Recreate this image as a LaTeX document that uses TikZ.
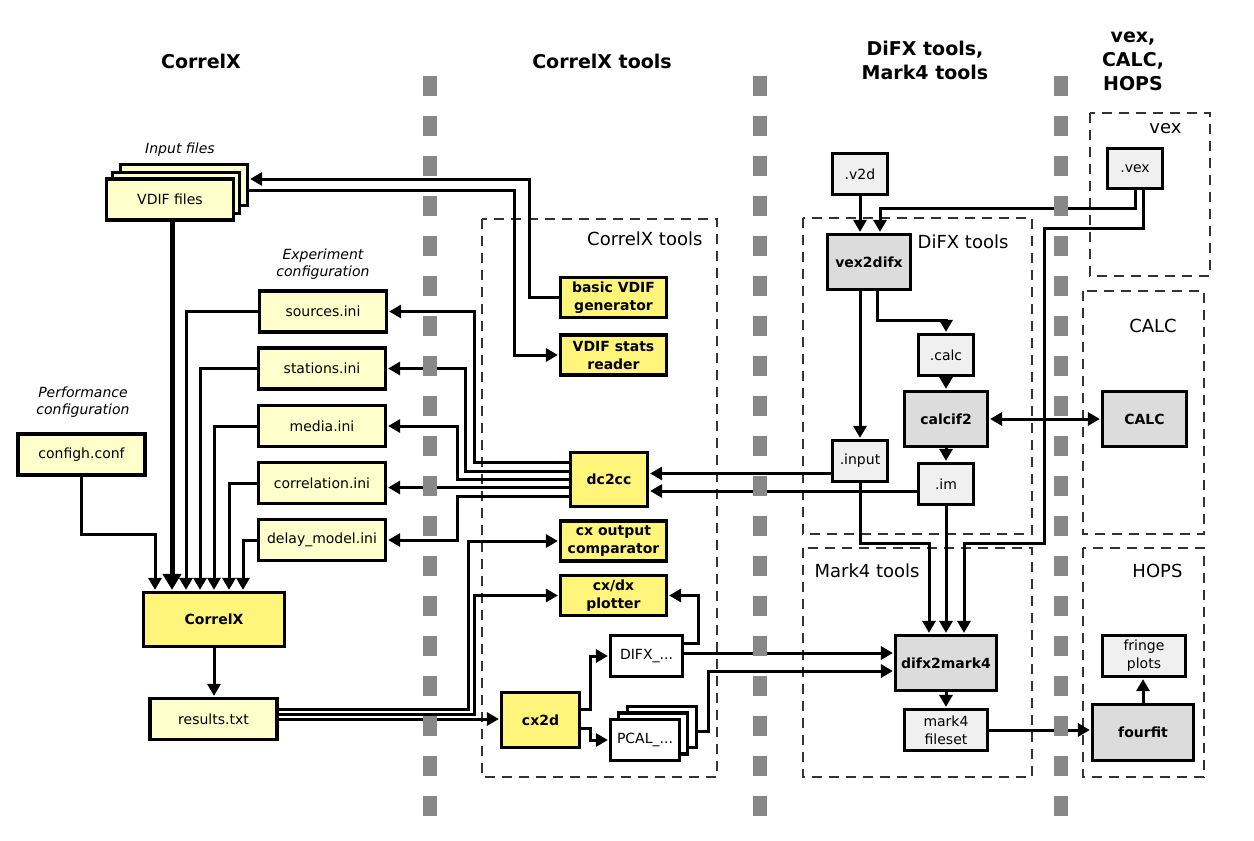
\documentclass[tikz,border=0pt]{standalone}
\usepackage{fontspec}
\setmainfont{DejaVu Sans}
\usepackage{xcolor}
\usepackage{tikz}
\usetikzlibrary{arrows.meta}

\definecolor{fileyellow}{HTML}{FFFFCC}
\definecolor{toolyellow}{HTML}{FFF57A}
\definecolor{toolgray}{HTML}{DCDCDC}
\definecolor{filegray}{HTML}{F0F0F0}
\definecolor{sepgray}{HTML}{888888}
\definecolor{groupline}{HTML}{333333}

\tikzset{
  box/.style={draw, line width=3.2pt, inner sep=0pt, align=center, font=\fontsize{14}{18}\selectfont},
  filebox/.style={box, fill=fileyellow, minimum width=127pt, minimum height=41pt},
  toolbox/.style={box, fill=toolyellow, font=\fontsize{14}{18}\selectfont\bfseries, minimum width=106pt, minimum height=40pt},
  gfile/.style={box, fill=filegray, minimum width=55pt, minimum height=41pt},
  gtool/.style={box, fill=toolgray, font=\fontsize{14}{18}\selectfont\bfseries, minimum width=83pt, minimum height=55pt},
  wfile/.style={box, fill=white, minimum width=72pt, minimum height=41pt},
  conn/.style={line width=3pt, ->, shorten >=1pt},
  bigconn/.style={line width=5pt, -{Triangle[length=16pt,width=18pt]}, shorten >=1pt},
  group/.style={line width=1.5pt, groupline, dash pattern=on 10pt off 7pt},
  grouplabel/.style={font=\fontsize{18}{22}\selectfont},
  title/.style={align=center, font=\fontsize{19}{24}\selectfont\bfseries},
  note/.style={align=center, font=\fontsize{14}{17}\selectfont\itshape}
}

\begin{document}
\begin{tikzpicture}[x=1pt, y=-1pt, >={Triangle[length=12pt,width=13pt]}]
    \useasboundingbox (0,0) rectangle (1254,841);

    % Column titles
    \node[title] (ttlcorrelx) at (201,61) {CorrelX};
    \node[title] (ttlcxtools) at (602,61) {CorrelX tools};
    \node[title] (ttldifx) at (925,60) {DiFX tools,\\Mark4 tools};
    \node[title] (ttlvex) at (1133,61) {vex,\\CALC,\\HOPS};

    % Dashed groups
    \draw[group] (482,219) rectangle (717,777);
    \draw[group] (803,218) rectangle (1032,534);
    \draw[group] (803,548) rectangle (1032,777);
    \draw[group] (1090,113) rectangle (1210,276);
    \draw[group] (1083,291) rectangle (1204,534);
    \draw[group] (1083,548) rectangle (1204,777);
    \node[grouplabel, anchor=east] (lblcxtools) at (706,239) {CorrelX tools};
    \node[grouplabel, anchor=east] (lbldifx) at (1012,242) {DiFX tools};
    \node[grouplabel, anchor=west] (lblmark4) at (811,571) {Mark4 tools};
    \node[grouplabel, anchor=east] (lblvex) at (1185,129) {vex};
    \node[grouplabel] (lblcalc) at (1153,326) {CALC};
    \node[grouplabel, anchor=east] (lblhops) at (1186,571) {HOPS};

    % Notes
    \node[note] (notein) at (180,150) {Input files};
    \node[note] (noteexp) at (323,264) {Experiment\\configuration};
    \node[note] (noteperf) at (83,402) {Performance\\configuration};

    % CorrelX column
    \node[filebox] (vdifback) at (184,185) {};
    \node[filebox] (vdifmid) at (176,193) {};
    \node[filebox] (vdif) at (170,199.5) {VDIF files};
    \node[filebox] (sources) at (323,311.5) {sources.ini};
    \node[filebox] (stations) at (322,368.5) {stations.ini};
    \node[filebox] (media) at (322,426) {media.ini};
    \node[filebox] (correlation) at (322,483) {correlation.ini};
    \node[filebox] (delaymodel) at (322,540) {delay\_model.ini};
    \node[filebox] (confighg) at (81.5,454.5) {configh.conf};
    \node[toolbox, minimum width=141pt, minimum height=54pt] (correlx) at (214,619.5) {CorrelX};
    \node[filebox] (results) at (213.5,719) {results.txt};

    % CorrelX tools
    \node[toolbox] (basicgen) at (613.5,297.5) {basic VDIF\\generator};
    \node[toolbox] (statsreader) at (613.5,355) {VDIF stats\\reader};
    \node[toolbox, minimum width=77pt, minimum height=54pt] (dc2cc) at (609,479.5) {dc2cc};
    \node[toolbox] (comparator) at (613.5,541) {cx output\\comparator};
    \node[toolbox] (plotter) at (613.5,595.5) {cx/dx\\plotter};
    \node[toolbox, minimum width=78pt, minimum height=55pt] (cx2d) at (540.5,720) {cx2d};
    \node[wfile] (difx) at (646.5,656) {DIFX\_...};
    \node[wfile, minimum width=69pt] (pcalback) at (662,727) {};
    \node[wfile, minimum width=69pt] (pcalmid) at (653,733.5) {};
    \node[wfile, minimum width=69pt] (pcal) at (645,740) {PCAL\_...};

    % DiFX and Mark4 tools
    \node[gfile] (v2d) at (860,174) {.v2d};
    \node[gtool] (vex2difx) at (869,262) {vex2difx};
    \node[gfile] (calc) at (946,355) {.calc};
    \node[gtool] (calcif2) at (946,419) {calcif2};
    \node[gfile] (input) at (860,461) {.input};
    \node[gfile] (im) at (946,484) {.im};
    \node[gtool, minimum width=101pt] (difx2mark4) at (946,663) {difx2mark4};
    \node[gfile, minimum width=83pt] (mark4) at (946,730) {mark4\\fileset};

    % vex, CALC, HOPS
    \node[gfile, minimum height=40pt] (vex) at (1135,168.5) {.vex};
    \node[gtool, minimum width=84pt] (calcnode) at (1144.5,419) {CALC};
    \node[gfile, minimum width=83pt] (fringe) at (1144,656) {fringe\\plots};
    \node[gtool, minimum width=101pt, minimum height=56pt] (fourfit) at (1143,732.5) {fourfit};

    % Connectors into CorrelX
    \draw[bigconn] ([xshift=2pt]vdif.south) -- ([xshift=-42pt]correlx.north);
    \draw[conn] (confighg.south) -- ++(0,58) -| ([xshift=-59pt]correlx.north);
    \draw[conn] (sources.west) -| ([xshift=-28pt]correlx.north);
    \draw[conn] (stations.west) -| ([xshift=-14pt]correlx.north);
    \draw[conn] (media.west) -| (correlx.north);
    \draw[conn] (correlation.west) -| ([xshift=15pt]correlx.north);
    \draw[conn] (delaymodel.west) -| ([xshift=29pt]correlx.north);
    \draw[conn] (correlx.south) -- (correlx.south |- results.north);

    % VDIF tools
    \draw[conn] (basicgen.west) -- ++(-29,0) |- ([yshift=6pt]vdifback.east);
    \draw[conn] ([yshift=-5pt]vdifback.east) -| ([xshift=-44pt]statsreader.west) -- (statsreader.west);

    % dc2cc outputs
    \draw[conn] ([yshift=17.5pt]dc2cc.west) -- ++(-94,0) |- (sources.east);
    \draw[conn] ([yshift=8.5pt]dc2cc.west) -- ++(-103,0) |- (stations.east);
    \draw[conn] (dc2cc.west) -- ++(-111,0) |- (media.east);
    \draw[conn] ([yshift=-8pt]dc2cc.west) -- ([yshift=-4.5pt]correlation.east);
    \draw[conn] ([yshift=-16.5pt]dc2cc.west) -- ++(-111,0) |- (delaymodel.east);
    \draw[conn] ([yshift=-12.5pt]input.west) -- ([yshift=6pt]dc2cc.east);
    \draw[conn] ([yshift=-7pt]im.west) -- ([yshift=-11.5pt]dc2cc.east);

    % results and cx2d
    \draw[conn] (results.east) -- (results.east -| cx2d.west);
    \draw[conn] ([yshift=10pt]results.east) -| ([xshift=-90pt]comparator.west) -- (comparator.west);
    \draw[conn] ([yshift=5pt]results.east) -| ([xshift=-84pt]plotter.west) -- (plotter.west);
    \draw[conn] ([yshift=11pt]cx2d.east) -| ([xshift=-18pt]difx.west) -- (difx.west);
    \draw[conn] ([yshift=-8pt]cx2d.east) -| ([xshift=-18pt]pcal.west) -- (pcal.west);
    \draw[conn] ([yshift=13pt]difx.east) -| ([xshift=30pt]plotter.east) -- (plotter.east);
    \draw[conn] ([yshift=3pt]difx.east) -- ([yshift=10pt]difx2mark4.west);
    \draw[conn] ([yshift=-4pt]pcalback.east) -- ++(10,0) |- ([yshift=-8pt]difx2mark4.west);

    % DiFX tools
    \draw[conn] (v2d.south) -- ([xshift=-9pt]vex2difx.north);
    \draw[conn] (vex.south) -- ++(0,18) -| ([xshift=11pt]vex2difx.north);
    \draw[conn] ([xshift=8pt]vex.south) -- ++(0,38) -| ++(-99,315) -| ([xshift=18pt]difx2mark4.north);
    \draw[conn] ([xshift=8pt]vex2difx.south) -- ++(0,29.5) -| (calc.north);
    \draw[conn] ([xshift=-9pt]vex2difx.south) -- (input.north);
    \draw[conn] (calc.south) -- (calcif2.north);
    \draw[line width=3pt, <->, shorten >=1pt, shorten <=1pt] (calcif2.east) -- (calcnode.west);
    \draw[conn] (calcif2.south) -- (im.north);
    \draw[conn] (input.south) -- ++(0,60.5) -| ([xshift=-17pt]difx2mark4.north);
    \draw[conn] (im.south) -- (difx2mark4.north);

    % Mark4 tools and HOPS
    \draw[conn] (difx2mark4.south) -- (mark4.north);
    \draw[conn] (mark4.east) -- (mark4.east -| fourfit.west);
    \draw[conn] (fourfit.north) -- (fourfit.north |- fringe.south);

    % Separators
    \foreach \sx in {430,760,1061}
        \foreach \k in {0,...,18}
            \fill[sepgray] ({\sx-7},{76+\k*40}) rectangle ++(14,20);
\end{tikzpicture}
\end{document}
